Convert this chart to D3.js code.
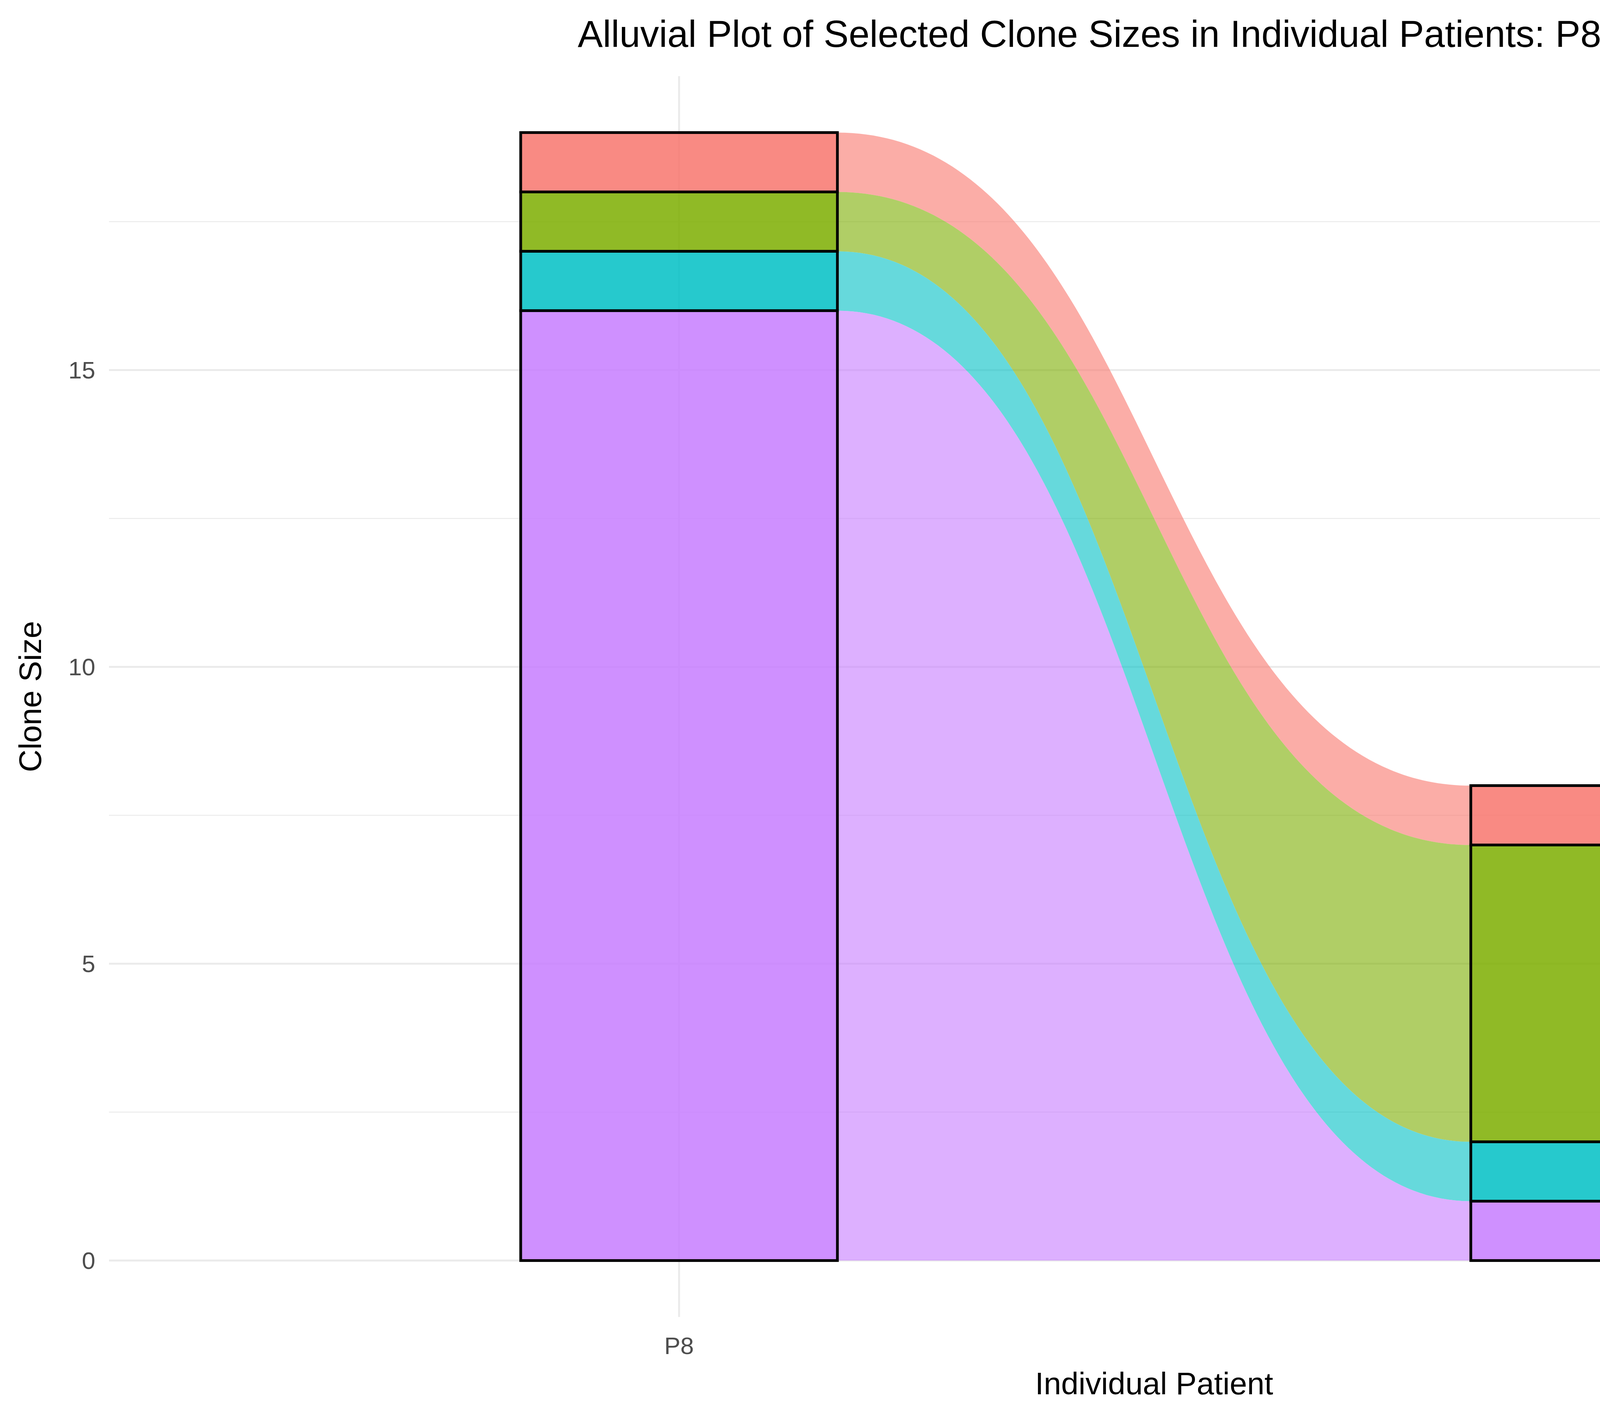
<!DOCTYPE html>
<html><head><meta charset="utf-8">
<script src="https://cdn.jsdelivr.net/npm/d3@7"></script>
<style>body{margin:0;background:#fff}</style>
</head><body>
<script>
// data
var patients = ["P8", "P9"];
var clones = ["CAGLIQGAQKLVF+CASSLESQTGELFF", "CALGGGFKTIF+CASGSSVSTGELFF", "CALRGADGLTF+CASSFWWGTEAFF", "CAVRLSNARLMF+CASSQGSSYEQYF"];
var sizesP8 = [1, 1, 1, 16];
var sizesP9 = [1, 5, 1, 1];
var colors = ["#F8766D", "#7CAE00", "#00BFC4", "#C77CFF"];
var yTicks = [0, 5, 10, 15];

var W = 7200, H = 3600;
var svg = d3.select("body").append("svg").attr("width", W).attr("height", H)
  .style("font-family", "Liberation Sans, Arial, sans-serif");

var pLeft = 279, pRight = 5630, pTop = 195, pBottom = 3372;
var x = d3.scaleLinear().domain([0.4, 2.6]).range([pLeft, pRight]);
var y = d3.scaleLinear().domain([-0.95, 19.95]).range([pBottom, pTop]);

// grid
var g = svg.append("g");
d3.range(0, 19, 2.5).forEach(function (v) {
  g.append("line").attr("x1", pLeft).attr("x2", pRight).attr("y1", y(v)).attr("y2", y(v))
    .attr("stroke", "#ebebeb").attr("stroke-width", v % 5 === 0 ? 5 : 2.5);
});
[1, 2].forEach(function (v) {
  g.append("line").attr("x1", x(v)).attr("x2", x(v)).attr("y1", pTop).attr("y2", pBottom)
    .attr("stroke", "#ebebeb").attr("stroke-width", 5);
});

// stacks (top to bottom in clone order)
function stack(vals) {
  var out = [], cum = d3.sum(vals);
  vals.forEach(function (v) { out.push([cum - v, cum]); cum -= v; });
  return out;
}
var s8 = stack(sizesP8), s9 = stack(sizesP9);
var hw = 1 / 6;
var xa = x(1 + hw), xb = x(2 - hw), xm = (xa + xb) / 2;

// flows
clones.forEach(function (c, i) {
  var p = d3.path();
  p.moveTo(xa, y(s8[i][1]));
  p.bezierCurveTo(xm, y(s8[i][1]), xm, y(s9[i][1]), xb, y(s9[i][1]));
  p.lineTo(xb, y(s9[i][0]));
  p.bezierCurveTo(xm, y(s9[i][0]), xm, y(s8[i][0]), xa, y(s8[i][0]));
  p.closePath();
  svg.append("path").attr("d", p.toString()).attr("fill", colors[i]).attr("fill-opacity", 0.6);
});

// strata
[[1, s8], [2, s9]].forEach(function (d) {
  d[1].forEach(function (r, i) {
    svg.append("rect").attr("x", x(d[0] - hw)).attr("width", x(d[0] + hw) - x(d[0] - hw))
      .attr("y", y(r[1])).attr("height", y(r[0]) - y(r[1]))
      .attr("fill", colors[i]).attr("fill-opacity", 0.85)
      .attr("stroke", "#000").attr("stroke-width", 7);
  });
});

// axes text
yTicks.forEach(function (v) {
  svg.append("text").attr("x", pLeft - 35).attr("y", y(v)).attr("dy", "0.35em")
    .attr("text-anchor", "end").attr("font-size", 62).attr("fill", "#4d4d4d").text(v);
});
patients.forEach(function (p, i) {
  svg.append("text").attr("x", x(i + 1)).attr("y", pBottom + 95).attr("text-anchor", "middle")
    .attr("font-size", 62).attr("fill", "#4d4d4d").text(p);
});
svg.append("text").attr("x", (pLeft + pRight) / 2).attr("y", 3570).attr("text-anchor", "middle")
  .attr("font-size", 80).text("Individual Patient");
svg.append("text").attr("transform", "translate(105," + (pTop + pBottom) / 2 + ") rotate(-90)")
  .attr("text-anchor", "middle").attr("font-size", 80).text("Clone Size");
svg.append("text").attr("x", (pLeft + pRight) / 2).attr("y", 120).attr("text-anchor", "middle")
  .attr("font-size", 96).text("Alluvial Plot of Selected Clone Sizes in Individual Patients: P8 and P9");

// legend
var lx = 5775, ly = 1560;
svg.append("text").attr("x", lx).attr("y", ly - 85).attr("font-size", 78).text("Clone ID");
clones.forEach(function (c, i) {
  var yy = ly + i * 145;
  svg.append("rect").attr("x", lx).attr("y", yy).attr("width", 135).attr("height", 135)
    .attr("fill", colors[i]).attr("fill-opacity", 0.95).attr("stroke", "#000").attr("stroke-width", 7);
  svg.append("text").attr("x", lx + 185).attr("y", yy + 68).attr("dy", "0.35em")
    .attr("font-size", 60).text(c);
});
</script>
</body></html>
